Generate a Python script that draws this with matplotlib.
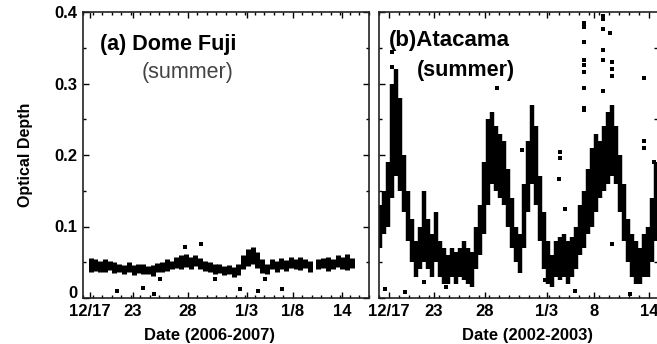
import numpy as np
import matplotlib
matplotlib.use('Agg')
import matplotlib.pyplot as plt
from matplotlib.ticker import MultipleLocator, FixedLocator, FuncFormatter

plt.rcParams['font.family'] = ['Liberation Sans', 'DejaVu Sans']

# x is in days (same scale as the tick labels)
date_labels = ['12/17', '23', '28', '1/3', '1/8', '14']
a_ticks = [0.73, 5.25, 11.0, 17.2, 22.0, 27.2]
b_labels = ['12/17', '23', '28', '1/3', '8', '14']
b_ticks = [1.0, 5.5, 10.6, 16.8, 21.5, 27.0]
y_ticks = [0, 0.1, 0.2, 0.3, 0.4]

# (a) Dome Fuji : band of dense points, low / high per time step
a_days = [0.8, 1.3, 1.8, 2.3, 2.8, 3.3, 3.8, 4.3, 4.8, 5.3, 5.8, 6.3, 6.8, 7.3,
          7.8, 8.3, 8.8, 9.3, 9.8, 10.3, 10.8, 11.3, 11.8, 12.3, 12.8, 13.3,
          13.8, 14.3, 14.8, 15.3, 15.8, 16.3, 16.8, 17.3, 17.8, 18.3, 18.8,
          19.3, 19.8, 20.3, 20.8, 21.3, 21.8, 22.3, 22.8, 23.3, 23.8,
          24.7, 25.2, 25.7, 26.2, 26.7, 27.2, 27.7, 28.2]
a_low = [0.036, 0.038, 0.037, 0.036, 0.039, 0.035, 0.037, 0.034, 0.036, 0.032,
         0.035, 0.033, 0.034, 0.031, 0.036, 0.037, 0.038, 0.040, 0.042, 0.041,
         0.044, 0.040, 0.045, 0.040, 0.038, 0.036, 0.033, 0.035, 0.032, 0.034,
         0.030, 0.032, 0.040, 0.045, 0.048, 0.042, 0.035, 0.034, 0.040, 0.037,
         0.041, 0.038, 0.042, 0.040, 0.039, 0.042, 0.036,
         0.040, 0.042, 0.038, 0.040, 0.043, 0.041, 0.039, 0.042]
a_high = [0.056, 0.055, 0.052, 0.054, 0.052, 0.050, 0.048, 0.046, 0.050, 0.046,
          0.048, 0.047, 0.045, 0.046, 0.049, 0.050, 0.054, 0.052, 0.058, 0.060,
          0.062, 0.058, 0.060, 0.056, 0.052, 0.050, 0.048, 0.047, 0.045, 0.046,
          0.044, 0.048, 0.060, 0.068, 0.072, 0.064, 0.055, 0.048, 0.055, 0.052,
          0.056, 0.053, 0.058, 0.055, 0.057, 0.054, 0.052,
          0.054, 0.056, 0.058, 0.055, 0.060, 0.057, 0.062, 0.056]
a_out_x = [3.57, 6.3, 7.45, 8.1, 10.7, 12.4, 13.85, 16.5, 18.4, 19.1, 20.9]
a_out_y = [0.010, 0.014, 0.005, 0.027, 0.071, 0.075, 0.027, 0.012, 0.010, 0.027, 0.013]

# (b) Atacama
b_days = [0.1, 0.5, 0.9, 1.3, 1.7, 2.1, 2.5, 2.9, 3.3, 3.7, 4.1, 4.5, 4.9, 5.3,
          5.7, 6.1, 6.5, 6.9, 7.3, 7.7, 8.1, 8.5, 8.9, 9.3, 9.7, 10.1, 10.5,
          10.9, 11.3, 11.7, 12.1, 12.5, 12.9, 13.3, 13.7, 14.1, 14.5, 14.9,
          15.3, 15.7, 16.1, 16.5, 16.9, 17.3, 17.7, 18.1, 18.5, 18.9, 19.3,
          19.7, 20.1, 20.5, 20.9, 21.3, 21.7, 22.1, 22.5, 22.9, 23.3, 23.7,
          24.1, 24.5, 24.9, 25.3, 25.7, 26.1, 26.5, 26.9, 27.3, 27.7]
b_low = [0.07, 0.09, 0.10, 0.14, 0.17, 0.15, 0.12, 0.08, 0.05, 0.03, 0.04, 0.05,
         0.04, 0.03, 0.05, 0.03, 0.02, 0.02, 0.03, 0.02, 0.03, 0.025, 0.02,
         0.015, 0.04, 0.06, 0.09, 0.13, 0.16, 0.15, 0.14, 0.13, 0.10, 0.07,
         0.05, 0.035, 0.07, 0.12, 0.16, 0.13, 0.08, 0.04, 0.02, 0.015, 0.03,
         0.025, 0.03, 0.02, 0.03, 0.04, 0.06, 0.07, 0.09, 0.10, 0.12, 0.14,
         0.15, 0.16, 0.17, 0.16, 0.12, 0.08, 0.05, 0.03, 0.02, 0.02, 0.03,
         0.03, 0.05, 0.08]
b_high = [0.13, 0.15, 0.19, 0.30, 0.32, 0.28, 0.20, 0.15, 0.11, 0.08, 0.10, 0.15,
          0.11, 0.09, 0.12, 0.08, 0.07, 0.06, 0.07, 0.065, 0.07, 0.08, 0.07,
          0.065, 0.10, 0.13, 0.19, 0.25, 0.26, 0.24, 0.23, 0.22, 0.18, 0.14,
          0.10, 0.09, 0.16, 0.22, 0.27, 0.24, 0.17, 0.12, 0.08, 0.06, 0.08,
          0.085, 0.09, 0.08, 0.085, 0.10, 0.13, 0.15, 0.18, 0.21, 0.23, 0.22,
          0.24, 0.26, 0.27, 0.24, 0.20, 0.16, 0.11, 0.09, 0.08, 0.07, 0.09,
          0.10, 0.14, 0.19]
b_out_x = [20.5, 20.5, 20.5, 20.5, 20.5, 20.5, 20.5, 20.5, 20.5,
           22.4, 22.4, 22.4, 22.4, 22.4, 22.4, 23.1, 23.3, 23.3, 23.3,
           26.5, 26.5, 26.5, 27.5, 18.1, 18.1, 14.3, 11.8, 1.3, 1.3,
           0.6, 2.6, 4.5, 6.7, 19.6, 23.3, 18.0, 18.6, 16.6, 25.1]
b_out_y = [0.385, 0.379, 0.358, 0.333, 0.326, 0.316, 0.294, 0.266, 0.263,
           0.395, 0.390, 0.376, 0.347, 0.333, 0.290, 0.370, 0.330, 0.320, 0.310,
           0.307, 0.220, 0.210, 0.190, 0.204, 0.196, 0.207, 0.294, 0.344, 0.323,
           0.013, 0.008, 0.023, 0.015, 0.010, 0.075, 0.166, 0.124, 0.025, 0.006]

fig = plt.figure(figsize=(6.57, 3.44), dpi=100)
ax1 = fig.add_axes([83/657, 46/344, 286/657, 286/344])
ax2 = fig.add_axes([379/657, 46/344, 278/657, 286/344])

ax1.vlines(a_days, a_low, a_high, color='black', linewidth=3.6)
ax1.scatter(a_out_x, a_out_y, s=5, marker='s', color='black', linewidths=0)
ax2.vlines(b_days, b_low, b_high, color='black', linewidth=3.2)
ax2.scatter(b_out_x, b_out_y, s=5, marker='s', color='black', linewidths=0)

ax1.set_xlim(0, 30)
ax2.set_xlim(0, 27.8)

for ax, ticks, labels in [(ax1, a_ticks, date_labels), (ax2, b_ticks, b_labels)]:
    ax.set_ylim(0, 0.4)
    ax.xaxis.set_major_locator(FixedLocator(ticks))
    ax.set_xticklabels(labels)
    ax.xaxis.set_minor_locator(MultipleLocator(1))
    ax.yaxis.set_major_locator(FixedLocator(y_ticks))
    ax.yaxis.set_minor_locator(MultipleLocator(0.05))
    ax.tick_params(which='both', direction='in', top=True, right=True, width=1)
    ax.tick_params(which='major', length=4, labelsize=12, pad=4)
    ax.tick_params(which='minor', length=2)
    for sp in ax.spines.values():
        sp.set_linewidth(1.2)
        sp.set_color('#222222')

ax1.yaxis.set_major_formatter(FuncFormatter(lambda v, p: '0' if v == 0 else '{:.1f}'.format(v)))
ax1.yaxis.get_major_ticks()[0].label1.set_verticalalignment('baseline')
ax2.tick_params(labelleft=False, right=False)
ax2.spines['right'].set_visible(False)
for ax in (ax1, ax2):
    for lab in ax.get_xticklabels() + ax.get_yticklabels():
        lab.set_fontweight('bold')

ax1.set_ylabel('Optical Depth', fontsize=11.5, fontweight='bold')
ax1.yaxis.set_label_coords(-0.175, 0.5)
ax1.set_xlabel('Date (2006-2007)', fontsize=12, fontweight='bold')
ax1.xaxis.set_label_coords((209 - 83) / 286, -0.105)
ax2.set_xlabel('Date (2002-2003)', fontsize=12, fontweight='bold')
ax2.xaxis.set_label_coords((528 - 379) / 278, -0.105)

ax1.text(0.059, 0.885, '(a) Dome Fuji', transform=ax1.transAxes, fontsize=15.5,
         fontweight='bold', va='center', ha='left')
ax1.text(0.206, 0.79, '(summer)', transform=ax1.transAxes, fontsize=15.5,
         color='#444444', va='center', ha='left')
ax2.text(0.036, 0.899, '(b)Atacama', transform=ax2.transAxes, fontsize=16,
         fontweight='bold', va='center', ha='left')
ax2.text(0.137, 0.794, '(summer)', transform=ax2.transAxes, fontsize=15.5,
         fontweight='bold', va='center', ha='left')

fig.savefig('out.png', dpi=100)
